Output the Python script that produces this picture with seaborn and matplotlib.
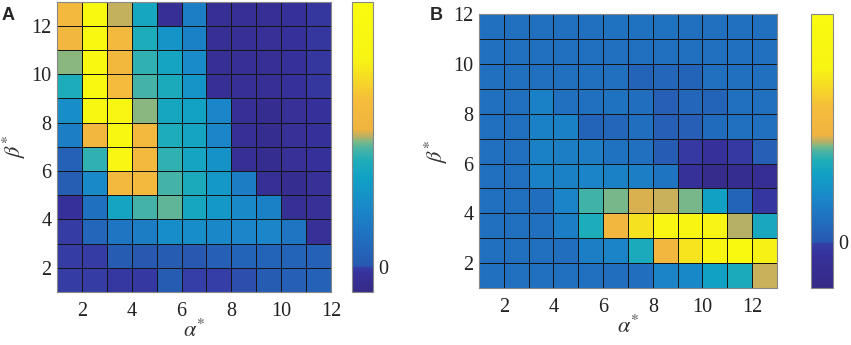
import numpy as np
import pandas as pd
import seaborn as sns
import matplotlib.pyplot as plt
from matplotlib.colors import LinearSegmentedColormap

# panel A: 11 alpha cells (1..12) x 12 beta cells (1..13), top row first
alpha_a = list(range(1, 12))
beta_a = list(range(12, 0, -1))
vals_a = [
    [0.61, 0.99, 0.52, 0.38, -0.05, 0.19, -0.05, -0.05, -0.05, -0.03, -0.02],
    [0.59, 0.96, 0.61, 0.41, 0.29, 0.20, -0.05, -0.05, -0.04, -0.03, -0.02],
    [0.50, 0.96, 0.60, 0.44, 0.37, 0.25, -0.05, -0.05, -0.05, -0.03, -0.02],
    [0.41, 0.96, 0.64, 0.46, 0.40, 0.29, -0.05, -0.05, -0.05, -0.03, -0.02],
    [0.26, 0.91, 0.88, 0.50, 0.38, 0.36, 0.22, -0.05, -0.07, -0.04, -0.03],
    [0.19, 0.59, 0.91, 0.61, 0.41, 0.37, 0.22, -0.05, -0.07, -0.04, -0.03],
    [0.05, 0.44, 0.88, 0.61, 0.44, 0.37, 0.28, -0.05, -0.07, -0.04, -0.03],
    [0.03, 0.24, 0.61, 0.61, 0.46, 0.40, 0.31, 0.18, -0.05, -0.07, -0.04],
    [-0.03, 0.12, 0.37, 0.46, 0.48, 0.38, 0.31, 0.24, 0.20, -0.05, -0.04],
    [-0.01, 0.075, 0.15, 0.18, 0.26, 0.26, 0.23, 0.22, 0.22, 0.15, -0.04],
    [-0.01, -0.01, 0.02, 0.005, 0.02, 0.005, 0.04, 0.06, 0.06, 0.06, 0.05],
    [-0.01, -0.01, -0.015, -0.015, 0.02, -0.005, -0.005, 0.0, 0.02, 0.04, 0.05],
]

# panel B: 12 alpha cells (1..13) x 11 beta cells (1..12), top row first
alpha_b = list(range(1, 13))
beta_b = list(range(11, 0, -1))
vals_b = [
    [0.10, 0.10, 0.10, 0.10, 0.10, 0.11, 0.11, 0.11, 0.10, 0.10, 0.10, 0.10],
    [0.10, 0.10, 0.10, 0.10, 0.10, 0.10, 0.10, 0.10, 0.10, 0.10, 0.10, 0.10],
    [0.10, 0.10, 0.10, 0.10, 0.10, 0.10, 0.05, 0.06, 0.05, 0.10, 0.10, 0.10],
    [0.10, 0.10, 0.17, 0.10, 0.10, 0.11, 0.09, 0.03, 0.06, 0.05, 0.10, 0.10],
    [0.10, 0.10, 0.17, 0.17, 0.05, 0.06, 0.09, 0.03, 0.03, 0.08, 0.10, 0.10],
    [0.10, 0.10, 0.17, 0.16, 0.15, 0.11, 0.10, 0.02, -0.03, -0.06, -0.03, 0.03],
    [0.10, 0.10, 0.17, 0.17, 0.18, 0.17, 0.16, 0.12, -0.07, -0.16, -0.13, -0.12],
    [0.10, 0.10, 0.09, 0.18, 0.39, 0.42, 0.46, 0.45, 0.42, 0.30, 0.05, -0.04],
    [0.10, 0.10, 0.10, 0.16, 0.35, 0.52, 0.70, 0.82, 0.78, 0.76, 0.44, 0.33],
    [0.10, 0.10, 0.10, 0.09, 0.16, 0.18, 0.34, 0.52, 0.71, 0.78, 0.94, 0.75],
    [0.10, 0.10, 0.10, 0.10, 0.10, 0.09, 0.09, 0.18, 0.20, 0.30, 0.34, 0.45],
]

ticks = [2, 4, 6, 8, 10, 12]


def parula_like(z):
    # dark part below zero, blue->green above it, then orange/yellow
    lo = [(0.0, '#352a87'), (z * 0.7, '#36319a'), (z - 0.002, '#3440a8')]
    mid = [(0.0, '#2858b0'), (0.2, '#216cbe'), (0.45, '#1a86c8'), (0.7, '#10a0c6'),
           (0.85, '#20aeb8'), (0.95, '#50b4a0'), (1.0, '#80b884')]
    g = 0.52
    hi = [(0.535, '#b8b064'), (0.56, '#f0b440'), (0.66, '#f5bc3c'),
          (0.74, '#f6dc24'), (0.80, '#f8f414'), (1.0, '#f9fb0e')]
    pts = lo + [(z + t * (g - z), c) for t, c in mid] + hi
    return LinearSegmentedColormap.from_list('parula_like', pts, N=512)


sns.set_theme(style='white')
plt.rcParams['font.family'] = ['Liberation Serif', 'DejaVu Serif']
plt.rcParams['mathtext.fontset'] = 'stix'

fig = plt.figure(figsize=(8.51, 3.45), dpi=100)


def panel(rect, crect, vals, xs, ys, vmin, vmax, letter, lpos):
    ax = fig.add_axes(rect)
    cax = fig.add_axes(crect)
    df = pd.DataFrame(vals, index=ys, columns=xs)
    z = -vmin / (vmax - vmin)
    sns.heatmap(df, ax=ax, cmap=parula_like(z), vmin=vmin, vmax=vmax,
                linewidths=0.6, linecolor='#151515', cbar_ax=cax,
                cbar_kws={'ticks': [0]}, xticklabels=False, yticklabels=False)
    ax.set_xticks([t - xs[0] for t in ticks])
    ax.set_xticklabels([str(t) for t in ticks])
    ax.set_yticks([ys[0] + 1 - t for t in ticks])
    ax.set_yticklabels([str(t) for t in ticks])
    ax.tick_params(axis='both', length=0, labelsize=14.5, colors='#222222')
    ax.tick_params(axis='x', pad=7)
    ax.tick_params(axis='y', pad=4)
    for s in ax.spines.values():
        s.set_visible(True)
        s.set_color('#888888')
        s.set_linewidth(0.8)
    ax.set_xlabel(r'$\alpha^{*}$', fontsize=16, color='#333333', labelpad=-1)
    ax.set_ylabel(r'$\beta^{*}$', fontsize=16, color='#333333', labelpad=2)
    cax.tick_params(length=0, labelsize=14.5, colors='#222222', pad=4)
    cax.set_yticklabels(['0'])
    cb = ax.collections[0].colorbar
    cb.outline.set_edgecolor('#888888')
    cb.outline.set_linewidth(0.8)
    fig.text(lpos[0], lpos[1], letter, fontsize=13, fontweight='bold',
             family='Liberation Sans', ha='left', va='center')


panel([0.067, 0.154, 0.322, 0.841], [0.4136, 0.154, 0.0247, 0.841],
      vals_a, alpha_a, beta_a, -0.1, 1.05, 'A', (0.002, 0.955))
panel([0.5629, 0.165, 0.350, 0.794], [0.953, 0.165, 0.0255, 0.794],
      vals_b, alpha_b, beta_b, -0.2, 1.0, 'B', (0.505, 0.955))

fig.savefig('out.png', dpi=100)
